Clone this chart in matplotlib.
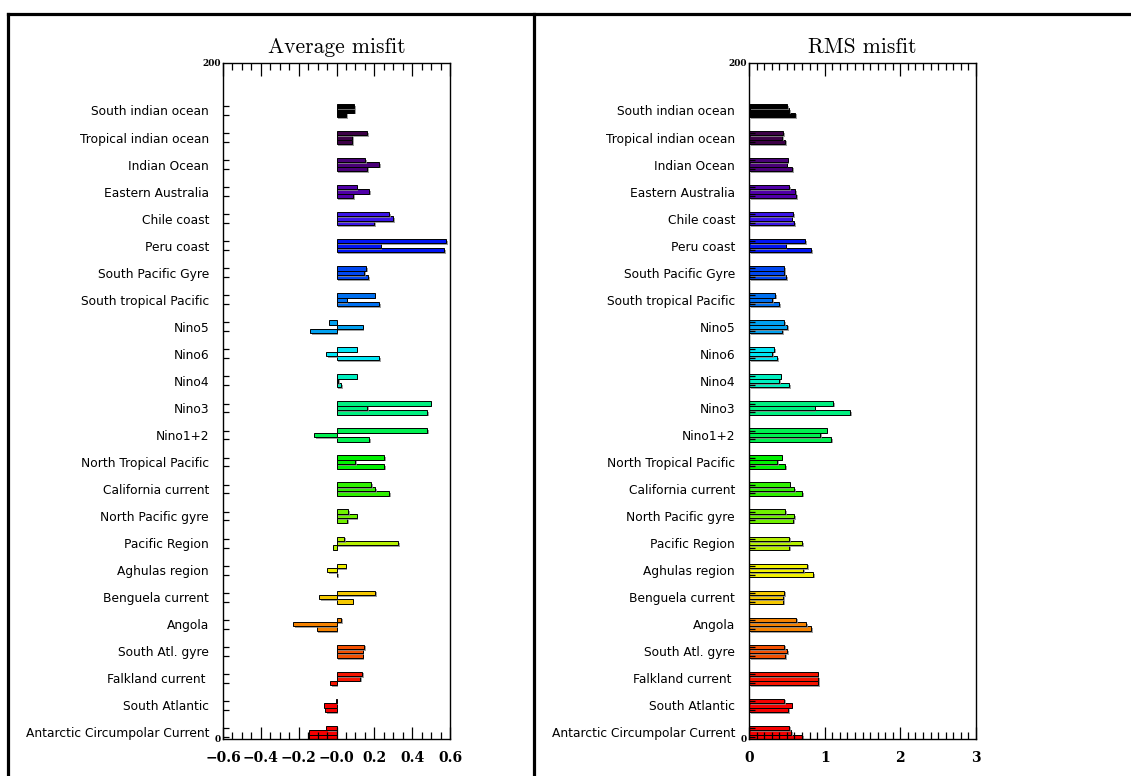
import numpy as np
import matplotlib
matplotlib.use("Agg")
import matplotlib.pyplot as plt
import matplotlib.patheffects as pe
import matplotlib.transforms as mtransforms
from matplotlib.lines import Line2D
from matplotlib.ticker import MultipleLocator, FixedLocator

# regions, listed top to bottom as in the chart
regions = ["South indian ocean", "Tropical indian ocean", "Indian Ocean", "Eastern Australia",
           "Chile coast", "Peru coast", "South Pacific Gyre", "South tropical Pacific",
           "Nino5", "Nino6", "Nino4", "Nino3", "Nino1+2", "North Tropical Pacific",
           "California current", "North Pacific gyre", "Pacific Region", "Aghulas region",
           "Benguela current", "Angola", "South Atl. gyre", "Falkland current ",
           "South Atlantic", "Antarctic Circumpolar Current"]

region_colors = ["#000000", "#3c0046", "#4a0078", "#5000a8", "#3a14e6", "#0014f5",
                 "#0046f0", "#0070f0", "#00a0f0", "#00e6f5", "#00f0c0", "#00f080",
                 "#00f050", "#00f000", "#30f000", "#70f000", "#b4f000", "#f0f000",
                 "#f5c800", "#f58200", "#f55000", "#f51400", "#f50000", "#f50000"]

# average misfit, three bars per region (top, middle, bottom)
avg_top = [0.095, 0.162, 0.150, 0.106, 0.279, 0.578, 0.157, 0.201, -0.042, 0.106, 0.106, 0.497,
           0.478, 0.252, 0.183, 0.063, 0.041, 0.049, 0.206, 0.026, 0.145, 0.134, -0.004, -0.056]
avg_mid = [0.095, 0.083, 0.226, 0.173, 0.300, 0.233, 0.145, 0.053, 0.139, -0.056, 0.009, 0.162,
           -0.118, 0.099, 0.205, 0.106, 0.326, -0.051, -0.090, -0.228, 0.138, 0.125, -0.065, -0.146]
avg_bot = [0.050, 0.083, 0.162, 0.088, 0.198, 0.568, 0.169, 0.226, -0.138, 0.226, 0.025, 0.481,
           0.173, 0.252, 0.279, 0.058, -0.018, 0.004, 0.086, -0.104, 0.138, -0.035, -0.060, -0.146]

# RMS misfit
rms_top = [0.507, 0.454, 0.511, 0.529, 0.586, 0.744, 0.467, 0.348, 0.467, 0.335, 0.419, 1.115,
           1.026, 0.432, 0.537, 0.480, 0.529, 0.771, 0.467, 0.626, 0.467, 0.907, 0.467, 0.529]
rms_mid = [0.533, 0.436, 0.498, 0.612, 0.564, 0.485, 0.467, 0.304, 0.507, 0.304, 0.400, 0.868,
           0.943, 0.374, 0.600, 0.600, 0.705, 0.718, 0.454, 0.753, 0.502, 0.916, 0.564, 0.559]
rms_bot = [0.612, 0.480, 0.573, 0.626, 0.600, 0.824, 0.493, 0.396, 0.440, 0.374, 0.529, 1.339,
           1.088, 0.480, 0.705, 0.586, 0.529, 0.850, 0.454, 0.824, 0.480, 0.916, 0.515, 0.700]

avg_ticklabels = ["\u22120.6", "\u22120.4", "\u22120.2", "\u22120.0", "0.2", "0.4", "0.6"]
rms_ticklabels = ["0", "1", "2", "3"]

W, H = 1131, 776
fig = plt.figure(figsize=(W / 100, H / 100), dpi=100)

n = len(regions)
step = 8.0
bar_h = 1.3
base = step * np.arange(n)[::-1]          # first region on top
shadow = [pe.SimplePatchShadow(offset=(1.2, -1.2), shadow_rgbFace="#888888", alpha=0.8), pe.Normal()]


def panel(rect, top, mid, bot, title, xlim, major, minor, labels):
    ax = fig.add_axes(rect)
    for k, vals in enumerate([bot, mid, top]):
        y = base + bar_h / 2 + k * bar_h
        ax.barh(y, vals, height=bar_h, color=region_colors, edgecolor="black",
                linewidth=0.7, path_effects=shadow)
    ax.set_xlim(*xlim)
    ax.set_ylim(0, 200)

    centers = base + 1.5 * bar_h
    ax.set_yticks(centers)
    ax.set_yticklabels(regions, fontsize=8.8, family="DejaVu Sans")
    ax.tick_params(axis="y", which="major", length=0, pad=10)
    ax.yaxis.set_minor_locator(FixedLocator(np.concatenate([base + bar_h / 2 + k * bar_h for k in range(3)])))
    ax.tick_params(axis="y", which="minor", direction="in", length=4.5, width=0.9)

    ax.xaxis.set_major_locator(MultipleLocator(major))
    ax.xaxis.set_minor_locator(MultipleLocator(minor))
    ax.tick_params(axis="x", which="major", direction="in", length=9, width=0.9,
                   top=True, pad=9)
    ax.tick_params(axis="x", which="minor", direction="in", length=5, width=0.9, top=True)
    ax.set_xticks(np.linspace(xlim[0], xlim[1], len(labels)))
    ax.set_xticklabels(labels, fontsize=10, family="DejaVu Serif", fontweight="bold")
    for sp in ax.spines.values():
        sp.set_linewidth(1.0)

    tr = mtransforms.blended_transform_factory(ax.transAxes, ax.transData)
    ax.text(-0.01, 200, "200", transform=tr, ha="right", va="center", fontsize=6.5,
            family="DejaVu Serif", fontweight="bold")
    ax.text(-0.01, 0, "0", transform=tr, ha="right", va="center", fontsize=6.5,
            family="DejaVu Serif", fontweight="bold")
    ax.set_title(title, family="cmr10", fontsize=15.5, pad=7)
    return ax


ax_h = (739 - 63) / H
ax_y = (H - 739) / H
panel([223 / W, ax_y, 227 / W, ax_h], avg_top, avg_mid, avg_bot, "Average misfit",
      (-0.6, 0.6), 0.2, 0.05, avg_ticklabels)
panel([749 / W, ax_y, 227 / W, ax_h], rms_top, rms_mid, rms_bot, "RMS misfit",
      (0, 3), 1.0, 0.1, rms_ticklabels)

# frame around the whole picture and divider between panels
lw = 2.3
fig.add_artist(Line2D([8 / W, 8 / W], [0, 1 - 14 / H], color="black", lw=lw))
fig.add_artist(Line2D([8 / W, 1], [1 - 14 / H, 1 - 14 / H], color="black", lw=lw))
fig.add_artist(Line2D([534 / W, 534 / W], [0, 1 - 14 / H], color="black", lw=lw))

fig.savefig("out.png", dpi=100)
